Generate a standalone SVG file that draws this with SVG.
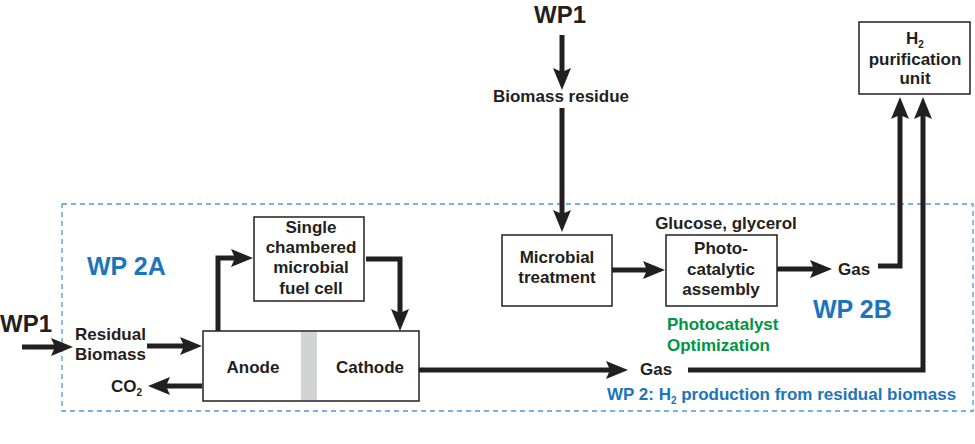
<svg xmlns="http://www.w3.org/2000/svg" width="975" height="444" viewBox="0 0 975 444">
<defs>
<style>
text{font-family:"Liberation Sans",Arial,sans-serif;font-weight:bold;fill:#231f20;font-size:17px}
.c{text-anchor:middle}
.big{font-size:24px}
.wp{font-size:25px;fill:#1c75bc}
.blue{fill:#1c75bc}
.green{fill:#009444}
.box{fill:#fff;stroke:#231f20;stroke-width:1.5}
.con{fill:none;stroke:#231f20;stroke-width:5;stroke-linejoin:miter;marker-end:url(#ah)}
.sub{font-size:10px}
</style>
<marker id="ah" markerUnits="userSpaceOnUse" markerWidth="24" markerHeight="20" refX="8" refY="9" orient="auto" viewBox="0 0 24 20">
<path d="M0,0 L22,9 L0,18 L4,9 Z" fill="#231f20"/>
</marker>
</defs>
<rect width="975" height="444" fill="#fff"/>

<g id="wp2-frame">
<rect x="62" y="204" width="911" height="207" fill="none" stroke="#4a9ad6" stroke-width="1.3" stroke-dasharray="5,4"/>
<text class="blue" x="607" y="400">WP 2: H<tspan class="sub" dy="4">2</tspan><tspan dy="-4"> production from residual biomass</tspan></text>
</g>

<g id="wp2a-label"><text class="wp" x="87" y="275">WP 2A</text></g>
<g id="wp2b-label"><text class="wp" x="813" y="318">WP 2B</text></g>

<g id="wp1-left"><text class="big" x="0" y="332">WP1</text></g>
<g id="residual-biomass">
<text x="75" y="340">Residual</text>
<text x="75" y="360">Biomass</text>
</g>
<g id="co2"><text x="111" y="392">CO<tspan class="sub" dy="4">2</tspan></text></g>

<g id="mfc-cell">
<rect class="box" x="203" y="331" width="216" height="70"/>
<rect x="301" y="332" width="16" height="68" fill="#d1d3d4"/>
<text class="c" x="253" y="373">Anode</text>
<text class="c" x="370" y="373">Cathode</text>
</g>

<g id="single-chambered">
<rect class="box" x="254" y="217" width="110" height="84"/>
<text class="c" x="311" y="233">Single</text>
<text class="c" x="311" y="253">chambered</text>
<text class="c" x="311" y="273">microbial</text>
<text class="c" x="311" y="294">fuel cell</text>
</g>

<g id="gas-bottom"><text x="640" y="375">Gas</text></g>

<g id="wp1-top"><text class="big c" x="560" y="23">WP1</text></g>
<g id="biomass-residue"><text class="c" x="561" y="102">Biomass residue</text></g>

<g id="microbial-treatment">
<rect class="box" x="502" y="235" width="110" height="71"/>
<text class="c" x="557" y="263">Microbial</text>
<text class="c" x="557" y="283">treatment</text>
</g>

<g id="photocatalytic">
<text class="c" x="726" y="229">Glucose, glycerol</text>
<rect class="box" x="666" y="235" width="111" height="71"/>
<text class="c" x="721" y="254">Photo-</text>
<text class="c" x="721" y="275">catalytic</text>
<text class="c" x="721" y="295">assembly</text>
</g>

<g id="photocatalyst-opt">
<text class="green" x="667" y="330">Photocatalyst</text>
<text class="green" x="667" y="351">Optimization</text>
</g>

<g id="gas-top"><text x="838" y="275">Gas</text></g>

<g id="h2-purification">
<rect class="box" x="859" y="22" width="111" height="72"/>
<text class="c" x="915" y="44">H<tspan class="sub" dy="4">2</tspan></text>
<text class="c" x="915" y="65">purification</text>
<text class="c" x="915" y="84">unit</text>
</g>

<g id="connectors">
<path class="con" d="M22,347 H59"/>
<path class="con" d="M147,346 H188"/>
<path class="con" d="M202,386 H162"/>
<path class="con" d="M218,331 V258 H239"/>
<path class="con" d="M366,259 H400 V317"/>
<path class="con" d="M419,370 H614"/>
<path class="con" d="M688,370 H923 V111"/>
<path class="con" d="M562,35 V76"/>
<path class="con" d="M562,108 V218"/>
<path class="con" d="M612,270 H651"/>
<path class="con" d="M777,269 H818"/>
<path class="con" d="M878,266 H900 V111"/>
</g>
</svg>
